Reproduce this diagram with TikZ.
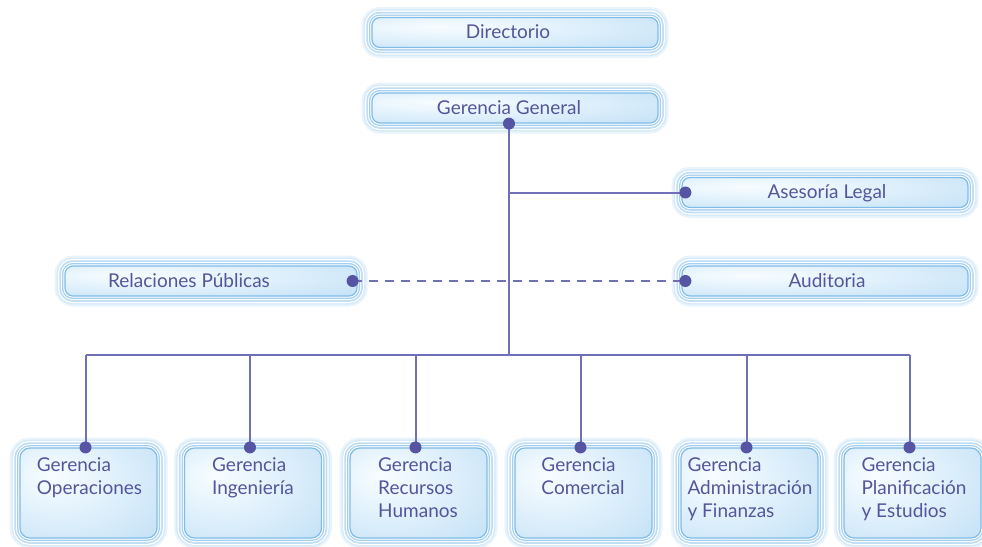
\documentclass[tikz,border=0pt]{standalone}
\usepackage{fontspec}
\setmainfont{Lato}
\usetikzlibrary{calc}

\definecolor{ink}{HTML}{55559C}
\definecolor{wire}{HTML}{7070B8}
\definecolor{dotc}{HTML}{5555A4}
\definecolor{edgec}{HTML}{7FBCE8}
\definecolor{ringA}{HTML}{EAF4FC}
\definecolor{ringB}{HTML}{D6EBF9}
\definecolor{ringC}{HTML}{BFDDF4}
\definecolor{ringD}{HTML}{A6D0F0}

% soft pale-blue fill, lighter towards the upper left
\pgfdeclareradialshading{paleglow}{\pgfpoint{-14bp}{10bp}}{%
  rgb(0bp)=(0.97,0.99,1);
  rgb(12bp)=(0.92,0.965,0.995);
  rgb(40bp)=(0.79,0.895,0.97);
  rgb(90bp)=(0.74,0.87,0.965)}

\tikzset{
  x=1pt, y=-1pt,
  glowbox/.style={
    rounded corners=#1, inner sep=0pt, shading=paleglow,
    draw=edgec, line width=1.2pt,
    preaction={draw=ringA, line width=21pt},
    preaction={draw=ringB, line width=17pt},
    preaction={draw=white, line width=14pt},
    preaction={draw=ringC, line width=11.5pt},
    preaction={draw=white, line width=8pt},
    preaction={draw=ringD, line width=6pt},
    preaction={draw=white, line width=3.4pt}},
  widebox/.style={glowbox=8pt, minimum width=286pt, minimum height=30pt},
  unitbox/.style={glowbox=10pt, minimum width=137pt, minimum height=90pt},
  boxtext/.style={text=ink, font=\fontsize{19}{23}\selectfont, inner sep=0pt, anchor=base},
  unittext/.style={text=ink, font=\fontsize{19}{23}\selectfont, inner sep=0pt,
    align=left, anchor=north},
  wireline/.style={draw=wire, line width=2pt},
  dashwire/.style={wireline, dash pattern=on 9pt off 7pt},
  joint/.style={circle, fill=dotc, inner sep=0pt, minimum size=12pt}
}

\begin{document}
\begin{tikzpicture}
\useasboundingbox[fill=white] (0,0) rectangle (982,546);

% upper boxes
\node[widebox] (dir) at (515,32.5) {};
\node[widebox] (gg)  at (515,108) {};
\node[widebox] (al)  at (825,192.5) {};
\node[widebox] (au)  at (825,281) {};
\node[widebox, minimum width=292pt] (rp) at (211,281) {};

\node[boxtext] (dir-t) at (508,38) {Directorio};
\node[boxtext] (gg-t)  at (509,114) {Gerencia General};
\node[boxtext] (al-t)  at (827,198) {Asesoría Legal};
\node[boxtext] (au-t)  at (827,287) {Auditoria};
\node[boxtext] (rp-t)  at (189,287) {Relaciones Públicas};

% lower row of departments
\foreach \i/\cx in {1/88.5,2/253,3/418.5,4/583.5,5/749.5,6/912.5}{
  \node[unitbox] (u\i) at (\cx,493) {};
}
\node[unittext] (u1-t) at (89.5,457) {Gerencia\\Operaciones};
\node[unittext] (u2-t) at (253,457) {Gerencia\\Ingeniería};
\node[unittext] (u3-t) at (418,457) {Gerencia\\Recursos\\Humanos};
\node[unittext] (u4-t) at (583,457) {Gerencia\\Comercial};
\node[unittext] (u5-t) at (750,457) {Gerencia\\Administración\\y Finanzas};
\node[unittext] (u6-t) at (914,457) {Gerencia\\Planificación\\y Estudios};

% connection points
\coordinate (ggp) at ([xshift=-6pt]gg.south);
\coordinate (alp) at ([xshift=4pt]al.west);
\coordinate (aup) at ([xshift=4pt]au.west);
\coordinate (rpp) at ([xshift=-5pt]rp.east);
\foreach \i in {1,...,6}{ \coordinate (u\i p) at ([xshift=-3pt]u\i.north); }
\coordinate (busy) at (0,355);

% connectors
\draw[dashwire] (rpp) -- (aup);
\draw[wireline] (ggp) -- (ggp |- busy);
\draw[wireline] (ggp |- alp) -- (alp);
\draw[wireline] (u1p |- busy) -- (u6p |- busy);
\foreach \i in {1,...,6}{ \draw[wireline] (u\i p |- busy) -- (u\i p); }

% joints
\foreach \p in {ggp,alp,aup,rpp,u1p,u2p,u3p,u4p,u5p,u6p}{
  \node[joint] (j-\p) at (\p) {};
}
\end{tikzpicture}
\end{document}
